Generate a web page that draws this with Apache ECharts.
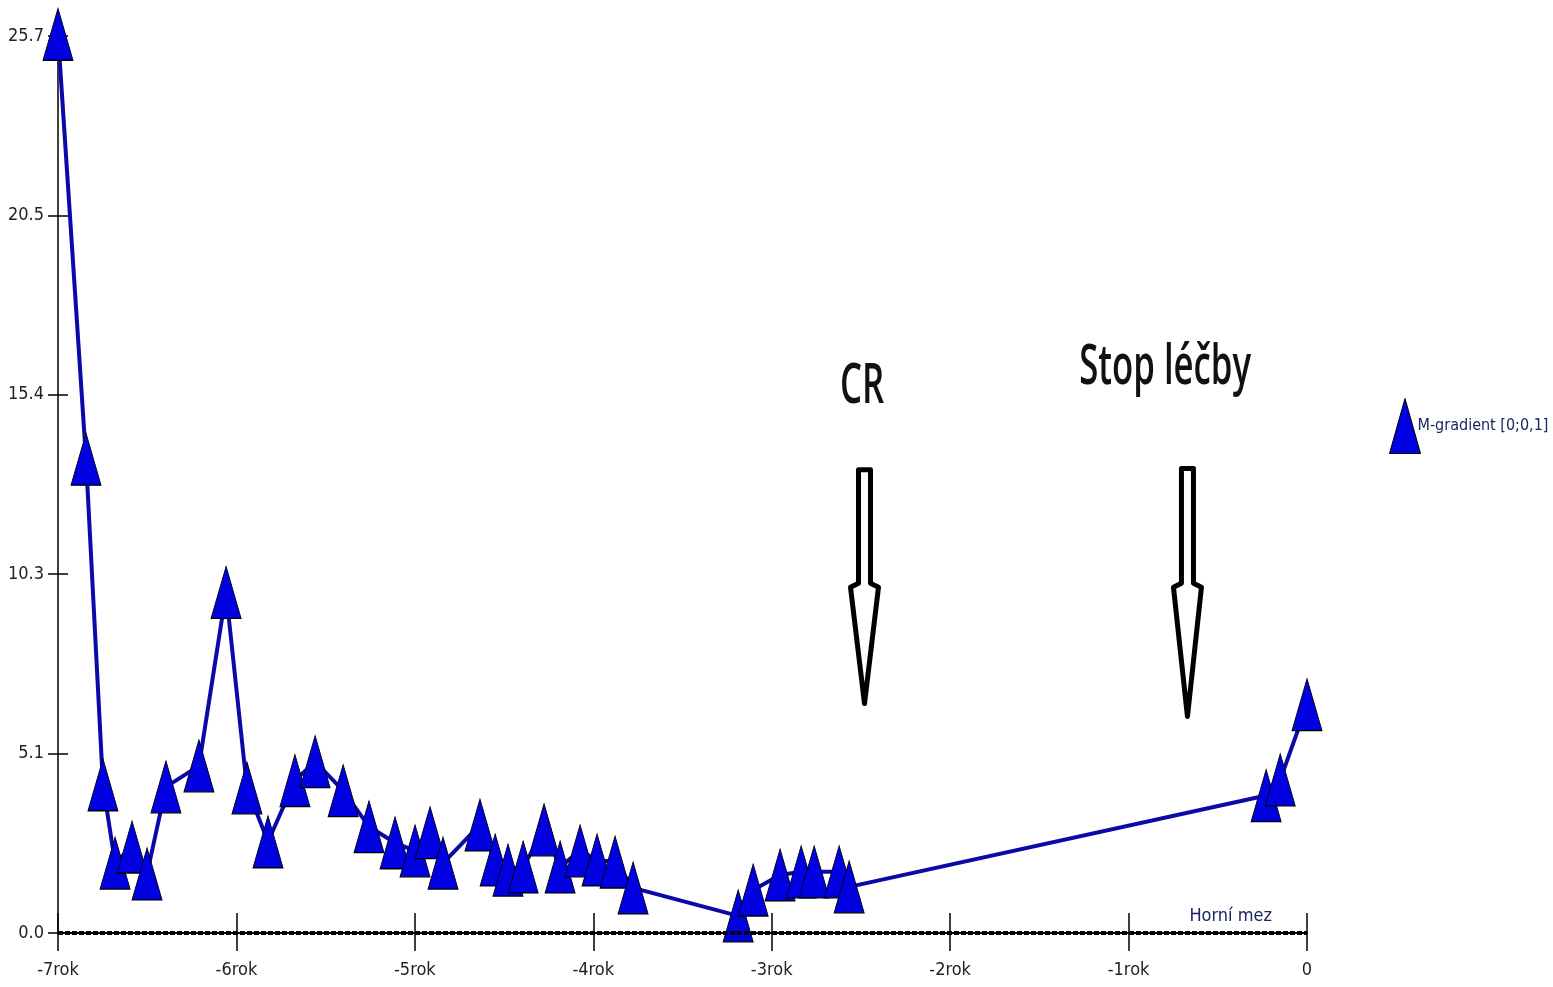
<!DOCTYPE html>
<html>
<head>
<meta charset="utf-8">
<script src="https://cdn.jsdelivr.net/npm/echarts@6/dist/echarts.min.js"></script>
<style>html,body{margin:0;padding:0;background:#fff;}#c{width:1553px;height:987px;}</style>
</head>
<body>
<div id="c"></div>
<script>
// ---- data ----
const seriesName = 'M-gradient [0;0,1]';
const xValues = [-7.000,-6.843,-6.748,-6.680,-6.585,-6.501,-6.395,-6.210,-6.058,-5.941,-5.823,-5.672,-5.559,-5.402,-5.257,-5.111,-4.999,-4.915,-4.842,-4.635,-4.550,-4.478,-4.393,-4.276,-4.186,-4.074,-3.979,-3.878,-3.777,-3.188,-3.104,-2.953,-2.835,-2.762,-2.622,-2.566,-0.229,-0.150,0.000];
const yValues = [25.7,13.55,4.24,2.00,2.46,1.69,4.18,4.78,9.74,4.15,2.61,4.36,4.90,4.07,3.04,2.58,2.35,2.87,2.00,3.09,2.09,1.80,1.89,2.95,1.89,2.35,2.09,2.03,1.29,0.49,1.23,1.66,1.75,1.75,1.75,1.32,3.93,4.38,6.53];
const xTickLabels = ['-7rok','-6rok','-5rok','-4rok','-3rok','-2rok','-1rok','0'];
const yTickLabels = ['0.0','5.1','10.3','15.4','20.5','25.7'];
const limitLabel = 'Horní mez';
const limitValue = 0;
// annotations (data coordinates)
const annoLabels = ['CR','Stop léčby'];
const annoTextX = [-2.493,-0.795];
const annoTextY = [15.62,16.15];
const arrowX = [-2.48,-0.67];
const arrowTopY = [13.25,13.28];
const arrowShoulderY = [9.89,9.89];
const arrowTipY = [6.56,6.19];

const narrow = "'Liberation Sans Narrow','Arial Narrow','DejaVu Sans Condensed',sans-serif";
const chart = echarts.init(document.getElementById('c'));
const pts = xValues.map((x,i)=>[x,yValues[i]]);

chart.setOption({
  animation:false,
  backgroundColor:'#fff',
  grid:{left:58,right:246,top:36,bottom:54,containLabel:false},
  legend:{
    data:[{name:seriesName,icon:'triangle'}],
    left:1389,top:398,padding:0,itemWidth:31,itemHeight:55,
    textStyle:{fontFamily:narrow,fontSize:16,color:'#1c2462',padding:[0,0,0,-8]},
    itemStyle:{color:'#0000e0',borderColor:'#000',borderWidth:1}
  },
  xAxis:[{
    type:'value',min:-7,max:0,interval:1,
    axisLine:{show:true,onZero:false,lineStyle:{color:'#000',width:2}},
    axisTick:{show:true,length:18,lineStyle:{color:'#000',width:1.5}},
    axisLabel:{margin:28,fontFamily:narrow,fontSize:18,color:'#222',
      formatter:(v)=>{const i=Math.round(v+7);return xTickLabels[i]||'';}},
    splitLine:{show:false}
  },{
    type:'value',min:-7,max:0,interval:1,position:'bottom',
    axisLine:{show:false,onZero:false},
    axisTick:{show:true,inside:true,length:20,lineStyle:{color:'#000',width:1.5}},
    axisLabel:{show:false},splitLine:{show:false}
  }],
  yAxis:[{
    type:'value',min:0,max:25.65,interval:5.13,position:'left',
    axisLine:{show:true,onZero:false,lineStyle:{color:'#000',width:1.5}},
    axisTick:{show:true,length:10,lineStyle:{color:'#000',width:1.5}},
    axisLabel:{margin:14,fontFamily:narrow,fontSize:18,color:'#222',
      formatter:(v,i)=>yTickLabels[i]},
    splitLine:{show:false}
  },{
    type:'value',min:0,max:25.65,interval:5.13,position:'left',offset:0,
    axisLine:{show:false,onZero:false},
    axisTick:{show:true,inside:true,length:10,lineStyle:{color:'#000',width:1.5}},
    axisLabel:{show:false},splitLine:{show:false}
  }],
  series:[{
    name:seriesName,type:'line',data:pts,xAxisIndex:0,yAxisIndex:0,
    clip:false,
    symbol:'triangle',symbolSize:[30,52],
    lineStyle:{color:'#0a0aa8',width:4},
    itemStyle:{color:'#0000e0',borderColor:'#000',borderWidth:1},
    emphasis:{disabled:true},
    markLine:{
      silent:true,symbol:'none',
      data:[{yAxis:limitValue}],
      lineStyle:{color:'#000',type:[5,2],width:4},
      label:{show:true,position:'insideEndTop',formatter:limitLabel,distance:[35,8],
        fontFamily:narrow,fontSize:18,color:'#1c2462'}
    }
  }]
});

// annotations positioned through the chart's own scales
const g = [];
annoLabels.forEach((lab,i)=>{
  const tp = chart.convertToPixel({gridIndex:0},[annoTextX[i],annoTextY[i]]);
  g.push({type:'text',x:tp[0],y:tp[1],scaleX:0.62,
    style:{text:lab,font:"600 56px 'Open Sans',sans-serif",fill:'#111',textAlign:'center',textVerticalAlign:'middle'}});
  const tip = chart.convertToPixel({gridIndex:0},[arrowX[i],arrowTipY[i]]);
  const top = chart.convertToPixel({gridIndex:0},[arrowX[i],arrowTopY[i]]);
  const sh = chart.convertToPixel({gridIndex:0},[arrowX[i],arrowShoulderY[i]]);
  const x0 = tip[0], hw = 6, hh = 14;
  g.push({type:'polygon',
    shape:{points:[[x0-hw,top[1]],[x0+hw,top[1]],[x0+hw,sh[1]-4],[x0+hh,sh[1]],[x0,tip[1]],[x0-hh,sh[1]],[x0-hw,sh[1]-4]]},
    style:{fill:'#fff',stroke:'#000',lineWidth:5,lineJoin:'round'}});
});
chart.setOption({graphic:g});
</script>
</body>
</html>
